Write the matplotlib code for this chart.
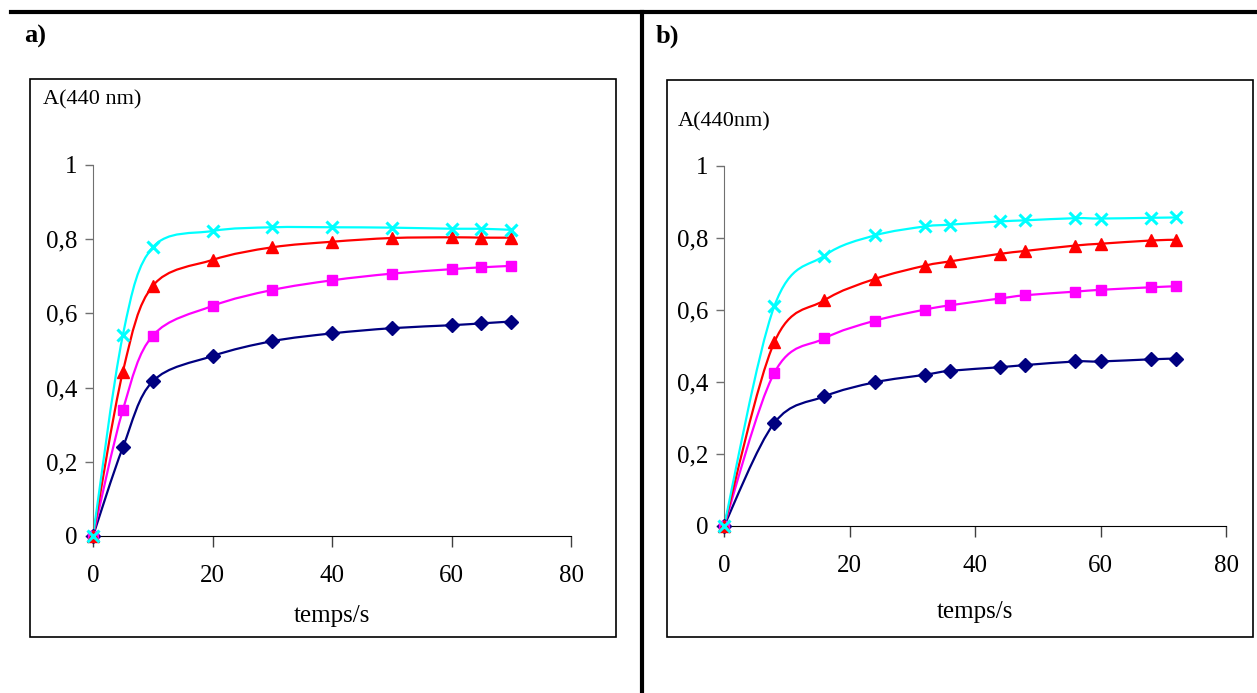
import matplotlib
matplotlib.use("Agg")
import matplotlib.pyplot as plt
import matplotlib.ticker as mticker
from matplotlib.path import Path
from matplotlib.patches import PathPatch, Rectangle
from matplotlib.lines import Line2D
import numpy as np

plt.rcParams['font.family'] = ['Liberation Serif', 'DejaVu Serif']

# panel a
t_a = [0, 5, 10, 20, 30, 40, 50, 60, 65, 70]
a_navy = [0, 0.239, 0.417, 0.485, 0.525, 0.546, 0.560, 0.568, 0.573, 0.578]
a_magenta = [0, 0.340, 0.540, 0.620, 0.663, 0.689, 0.707, 0.719, 0.724, 0.728]
a_red = [0, 0.443, 0.674, 0.744, 0.778, 0.793, 0.803, 0.805, 0.804, 0.804]
a_cyan = [0, 0.542, 0.778, 0.822, 0.832, 0.832, 0.831, 0.828, 0.828, 0.825]

# panel b
t_b = [0, 8, 16, 24, 32, 36, 44, 48, 56, 60, 68, 72]
b_navy = [0, 0.286, 0.360, 0.399, 0.420, 0.431, 0.441, 0.447, 0.457, 0.457, 0.463, 0.465]
b_magenta = [0, 0.425, 0.521, 0.570, 0.601, 0.613, 0.632, 0.641, 0.651, 0.656, 0.663, 0.666]
b_red = [0, 0.510, 0.627, 0.686, 0.723, 0.735, 0.756, 0.764, 0.779, 0.784, 0.793, 0.795]
b_cyan = [0, 0.610, 0.751, 0.807, 0.832, 0.837, 0.846, 0.849, 0.855, 0.854, 0.856, 0.857]

styles = [
    ("#000080", "D", 7, 1),
    ("#FF00FF", "s", 7.5, 1),
    ("#FF0000", "^", 8, 1),
    ("#00FFFF", "x", 8, 2.2),
]


def smooth_path(x, y):
    # Excel-like smoothed line as cubic Bezier segments through the data points
    pts = np.column_stack([x, y]).astype(float)
    n = len(pts)
    verts = [pts[0]]
    codes = [Path.MOVETO]
    for i in range(n - 1):
        p0 = pts[i - 1] if i > 0 else pts[i]
        p1 = pts[i]
        p2 = pts[i + 1]
        p3 = pts[i + 2] if i + 2 < n else pts[i + 1]
        verts += [p1 + (p2 - p0) / 6, p2 - (p3 - p1) / 6, p2]
        codes += [Path.CURVE4] * 3
    return Path(verts, codes)


def comma(v, pos):
    return f"{v:g}".replace(".", ",")


def draw_panel(ax, t, series, ylabel, ylab_pos, xlabelpad):
    for (col, mk, ms, mew), vals in zip(styles, series):
        ax.add_patch(PathPatch(smooth_path(t, vals), facecolor="none",
                               edgecolor=col, lw=1.6, zorder=2))
        ax.plot(t, vals, ls="none", marker=mk, ms=ms, color=col,
                mec=col, mew=mew, zorder=3, clip_on=False)
    ax.set_xlim(0, 80)
    ax.set_ylim(0, 1)
    ax.set_xticks([0, 20, 40, 60, 80])
    ax.set_yticks([0, 0.2, 0.4, 0.6, 0.8, 1])
    ax.yaxis.set_major_formatter(mticker.FuncFormatter(comma))
    ax.spines["top"].set_visible(False)
    ax.spines["right"].set_visible(False)
    ax.spines["left"].set_color("#707070")
    ax.spines["bottom"].set_color("black")
    ax.tick_params(axis="y", direction="out", length=6, width=1,
                   color="#707070", labelsize=18, pad=5)
    ax.tick_params(axis="x", direction="out", length=8, width=1,
                   color="#404040", labelsize=18, pad=13)
    ax.set_xlabel("temps/s", fontsize=18, labelpad=xlabelpad)
    fig.text(ylab_pos[0], ylab_pos[1], ylabel, fontsize=16, ha="left", va="center")


fig = plt.figure(figsize=(12.57, 6.93), dpi=100)

ax1 = fig.add_axes([0.074, 0.2266, 0.3803, 0.5354])
draw_panel(ax1, t_a, [a_navy, a_magenta, a_red, a_cyan], "A(440 nm)",
           (43 / 1257, 1 - 100 / 693), 13)

ax2 = fig.add_axes([0.576, 0.241, 0.3994, 0.5195])
draw_panel(ax2, t_b, [b_navy, b_magenta, b_red, b_cyan], "A(440nm)",
           (678 / 1257, 1 - 122 / 693), 17)

# frames and separators
W, H = 1257, 693
fig.patches.append(Rectangle((30 / W, 1 - 637 / H), (616 - 30) / W, (637 - 79) / H,
                             transform=fig.transFigure, fill=False,
                             edgecolor="black", lw=1.2))
fig.patches.append(Rectangle((667 / W, 1 - 637 / H), (1253 - 667) / W, (637 - 80) / H,
                             transform=fig.transFigure, fill=False,
                             edgecolor="black", lw=1.2))
fig.lines.append(Line2D([11 / W, 1], [1 - 12 / H, 1 - 12 / H],
                        transform=fig.transFigure, color="black", lw=3))
fig.lines.append(Line2D([642 / W, 642 / W], [0, 1 - 12 / H],
                        transform=fig.transFigure, color="black", lw=3))

fig.text(24 / W, 1 - 36 / H, "a)", fontsize=19, fontweight="bold", va="center")
fig.text(656 / W, 1 - 36 / H, "b)", fontsize=19, fontweight="bold", va="center")

fig.savefig("out.png", dpi=100)
